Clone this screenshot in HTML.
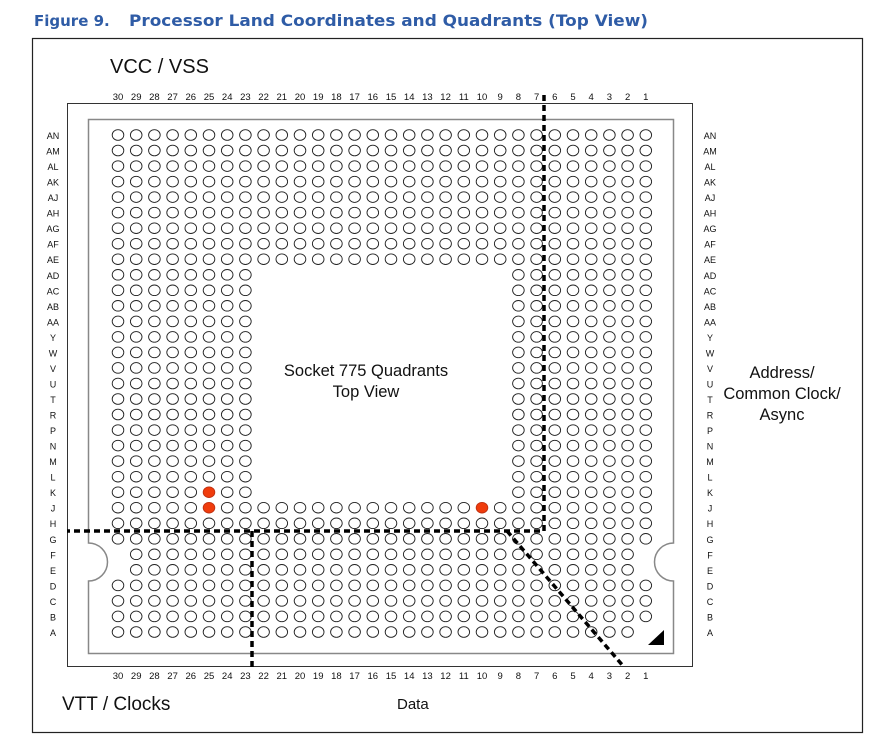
<!DOCTYPE html>
<html><head><meta charset="utf-8"><style>
html,body{margin:0;padding:0;background:#fff;width:895px;height:752px;overflow:hidden}
svg{display:block}
text{font-family:"Liberation Sans",Arial,sans-serif;fill:#111}
.cl{font-size:9.5px;text-anchor:middle}
.rl{font-size:9px;text-anchor:middle}
</style></head><body>
<svg id="s" width="895" height="752" viewBox="0 0 895 752" xmlns="http://www.w3.org/2000/svg">
<text x="34" y="26" style="font-family:'DejaVu Sans',sans-serif;font-weight:bold;font-size:15px;fill:#2f5ca6">Figure 9.</text>
<text x="129" y="26" textLength="519" lengthAdjust="spacingAndGlyphs" style="font-family:'DejaVu Sans',sans-serif;font-weight:bold;font-size:16px;fill:#2f5ca6">Processor Land Coordinates and Quadrants (Top View)</text>
<rect x="32.5" y="38.5" width="830" height="694" fill="none" stroke="#222" stroke-width="1.2"/>
<text x="110" y="73" style="font-size:20px">VCC / VSS</text>
<text x="62" y="710" style="font-size:19px">VTT / Clocks</text>
<text x="397" y="709" style="font-size:15px">Data</text>
<text x="782" y="378" style="font-size:16.5px;text-anchor:middle">Address/</text>
<text x="782" y="399" style="font-size:16.5px;text-anchor:middle">Common Clock/</text>
<text x="782" y="420" style="font-size:16.5px;text-anchor:middle">Async</text>
<text x="366" y="376" style="font-size:16.5px;text-anchor:middle">Socket 775 Quadrants</text>
<text x="366" y="397" style="font-size:16.5px;text-anchor:middle">Top View</text>
<rect x="67.5" y="103.5" width="625" height="563" fill="none" stroke="#333" stroke-width="1"/>
<path d="M88.5,119.5 H673.5 V543 A19,19 0 0 0 673.5,581 V653.5 H88.5 V581 A19,19 0 0 0 88.5,543 Z" fill="none" stroke="#888" stroke-width="1.5"/>
<polygon points="648,645 664,645 664,630" fill="#000"/>
<g id="circ"></g>
<g class="cl">
<text x="118" y="100">30</text><text x="136.2" y="100">29</text><text x="154.4" y="100">28</text><text x="172.6" y="100">27</text><text x="190.8" y="100">26</text><text x="209" y="100">25</text><text x="227.2" y="100">24</text><text x="245.4" y="100">23</text><text x="263.6" y="100">22</text><text x="281.8" y="100">21</text><text x="300" y="100">20</text><text x="318.2" y="100">19</text><text x="336.4" y="100">18</text><text x="354.6" y="100">17</text><text x="372.8" y="100">16</text><text x="391" y="100">15</text><text x="409.2" y="100">14</text><text x="427.4" y="100">13</text><text x="445.6" y="100">12</text><text x="463.8" y="100">11</text><text x="482" y="100">10</text><text x="500.2" y="100">9</text><text x="518.4" y="100">8</text><text x="536.6" y="100">7</text><text x="554.8" y="100">6</text><text x="573" y="100">5</text><text x="591.2" y="100">4</text><text x="609.4" y="100">3</text><text x="627.6" y="100">2</text><text x="645.8" y="100">1</text>
<text x="118" y="679">30</text><text x="136.2" y="679">29</text><text x="154.4" y="679">28</text><text x="172.6" y="679">27</text><text x="190.8" y="679">26</text><text x="209" y="679">25</text><text x="227.2" y="679">24</text><text x="245.4" y="679">23</text><text x="263.6" y="679">22</text><text x="281.8" y="679">21</text><text x="300" y="679">20</text><text x="318.2" y="679">19</text><text x="336.4" y="679">18</text><text x="354.6" y="679">17</text><text x="372.8" y="679">16</text><text x="391" y="679">15</text><text x="409.2" y="679">14</text><text x="427.4" y="679">13</text><text x="445.6" y="679">12</text><text x="463.8" y="679">11</text><text x="482" y="679">10</text><text x="500.2" y="679">9</text><text x="518.4" y="679">8</text><text x="536.6" y="679">7</text><text x="554.8" y="679">6</text><text x="573" y="679">5</text><text x="591.2" y="679">4</text><text x="609.4" y="679">3</text><text x="627.6" y="679">2</text><text x="645.8" y="679">1</text>
</g>
<g class="rl">
<text x="53" y="139">AN</text><text x="53" y="154.5">AM</text><text x="53" y="170">AL</text><text x="53" y="185.6">AK</text><text x="53" y="201.1">AJ</text><text x="53" y="216.7">AH</text><text x="53" y="232.2">AG</text><text x="53" y="247.7">AF</text><text x="53" y="263.2">AE</text><text x="53" y="278.8">AD</text><text x="53" y="294.3">AC</text><text x="53" y="309.8">AB</text><text x="53" y="325.4">AA</text><text x="53" y="340.9">Y</text><text x="53" y="356.4">W</text><text x="53" y="372">V</text><text x="53" y="387.5">U</text><text x="53" y="403">T</text><text x="53" y="418.5">R</text><text x="53" y="434.1">P</text><text x="53" y="449.6">N</text><text x="53" y="465.1">M</text><text x="53" y="480.7">L</text><text x="53" y="496.2">K</text><text x="53" y="511.7">J</text><text x="53" y="527.2">H</text><text x="53" y="542.8">G</text><text x="53" y="558.3">F</text><text x="53" y="573.8">E</text><text x="53" y="589.4">D</text><text x="53" y="604.9">C</text><text x="53" y="620.4">B</text><text x="53" y="636">A</text>
<text x="710" y="139">AN</text><text x="710" y="154.5">AM</text><text x="710" y="170">AL</text><text x="710" y="185.6">AK</text><text x="710" y="201.1">AJ</text><text x="710" y="216.7">AH</text><text x="710" y="232.2">AG</text><text x="710" y="247.7">AF</text><text x="710" y="263.2">AE</text><text x="710" y="278.8">AD</text><text x="710" y="294.3">AC</text><text x="710" y="309.8">AB</text><text x="710" y="325.4">AA</text><text x="710" y="340.9">Y</text><text x="710" y="356.4">W</text><text x="710" y="372">V</text><text x="710" y="387.5">U</text><text x="710" y="403">T</text><text x="710" y="418.5">R</text><text x="710" y="434.1">P</text><text x="710" y="449.6">N</text><text x="710" y="465.1">M</text><text x="710" y="480.7">L</text><text x="710" y="496.2">K</text><text x="710" y="511.7">J</text><text x="710" y="527.2">H</text><text x="710" y="542.8">G</text><text x="710" y="558.3">F</text><text x="710" y="573.8">E</text><text x="710" y="589.4">D</text><text x="710" y="604.9">C</text><text x="710" y="620.4">B</text><text x="710" y="636">A</text>
</g>
<g fill="none" stroke="#000" stroke-width="3.5" stroke-dasharray="6,4">
<path d="M544,95 V531 H67"/>
<path d="M252,531 V670"/>
<path d="M507,531 L624,667"/>
</g>
</svg>
<script>
var g=document.getElementById('circ'),h='';
for(var r=0;r<33;r++){for(var c=30;c>=1;c--){
 var x=118+(30-c)*18.2,y=135+r*15.53;
 if(r>=9&&r<=23&&c>=9&&c<=22)continue;
 if((r==27||r==28)&&(c==30||c==1))continue;
 if(r==32&&c==1)continue;
 var red=(c==25&&(r==23||r==24))||(c==10&&r==24);
 h+='<ellipse cx="'+x.toFixed(1)+'" cy="'+y.toFixed(1)+'" rx="5.8" ry="5.3" fill="'+(red?'#f03c0c':'#fff')+'" stroke="'+(red?'#c03010':'#222')+'" stroke-width="0.9"/>';
}}
g.innerHTML=h;
</script>
</body></html>
